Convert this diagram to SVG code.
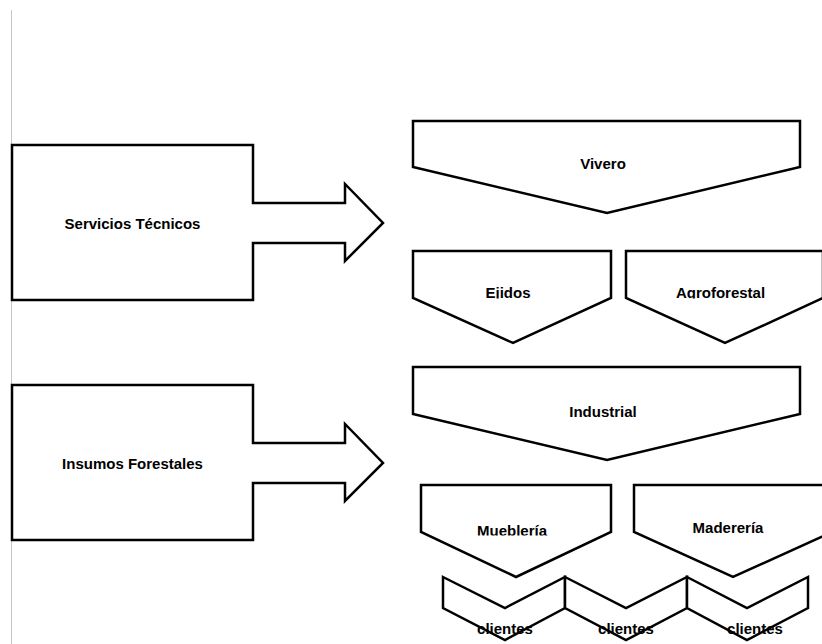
<svg xmlns="http://www.w3.org/2000/svg" width="822" height="644" viewBox="0 0 822 644">
  <style>
    .shape { fill: #ffffff; stroke: #000000; stroke-width: 2.5; stroke-linejoin: miter; }
    .label { font-family: "Liberation Sans", Arial, sans-serif; font-weight: bold; font-size: 15px; fill: #000000; text-anchor: middle; }
  </style>
  <defs>
    <clipPath id="clipRow2"><rect x="400" y="240" width="422" height="58.5"/></clipPath>
    <clipPath id="clipRow4"><rect x="400" y="480" width="422" height="55.5"/></clipPath>
  </defs>
  <rect width="822" height="644" fill="#ffffff"/>
  <line x1="11.5" y1="10" x2="11.5" y2="644" stroke="#c4c4c4" stroke-width="1"/>

  <g id="servicios-tecnicos">
    <polygon class="shape" points="12,145 253,145 253,203 345,203 345,184 383,223 345,261 345,243 253,243 253,300 12,300"/>
    <text class="label" x="132.5" y="229">Servicios Técnicos</text>
  </g>

  <g id="insumos-forestales">
    <polygon class="shape" points="12,385 253,385 253,443 345,443 345,424 383,463 345,501 345,483 253,483 253,540 12,540"/>
    <text class="label" x="132.5" y="469">Insumos Forestales</text>
  </g>

  <g id="vivero">
    <polygon class="shape" points="413,121 800,121 800,167 607,213 413,167"/>
    <text class="label" x="603" y="169">Vivero</text>
  </g>

  <g id="ejidos">
    <polygon class="shape" points="413,251 611,251 611,298 513,343 413,298"/>
    <text class="label" x="508" y="297.5" clip-path="url(#clipRow2)">Ejidos</text>
  </g>

  <g id="agroforestal">
    <polygon class="shape" points="626,251 823,251 823,298 725,343 626,298"/>
    <text class="label" x="720.5" y="297.5" clip-path="url(#clipRow2)">Agroforestal</text>
  </g>

  <g id="industrial">
    <polygon class="shape" points="413,367 800,367 800,414 607,460 413,414"/>
    <text class="label" x="603" y="417">Industrial</text>
  </g>

  <g id="muebleria">
    <polygon class="shape" points="421,485 611,485 611,532 516,577 421,532"/>
    <text class="label" x="512" y="535.5" clip-path="url(#clipRow4)">Mueblería</text>
  </g>

  <g id="madereria">
    <polygon class="shape" points="634,485 832,485 832,532 733,577 634,532"/>
    <text class="label" x="728" y="533">Maderería</text>
  </g>

  <g id="clientes-1">
    <polygon class="shape" points="443,577 505,608 565,577 565,608 505,640 443,608"/>
    <text class="label" x="505" y="634">clientes</text>
  </g>

  <g id="clientes-2">
    <polygon class="shape" points="565,577 626,608 687,577 687,608 626,640 565,608"/>
    <text class="label" x="626" y="634">clientes</text>
  </g>

  <g id="clientes-3">
    <polygon class="shape" points="687,577 747,608 808,577 808,608 747,640 687,608"/>
    <text class="label" x="755" y="634">clientes</text>
  </g>

  <g id="connectors"></g>
</svg>
